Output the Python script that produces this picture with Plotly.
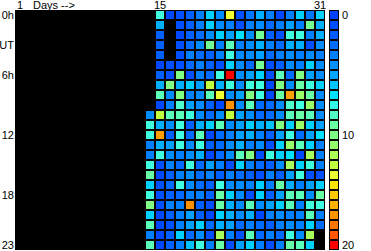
import plotly.graph_objects as go

N = None
days = list(range(1, 32))
hours = list(range(0, 24))

# values for days 14..31 per hour (days 1..13 have no data)
rows_14_31 = [
    [N, 8, 0.5, 1, 2, 3.5, 6.5, 4, 14, 1, 3, 5.5, 3.5, 0.5, 3.5, 6.5, 3, 6.5],
    [N, 5.5, N, 1, 2, 3.5, 6.5, 4, 3.5, 1, 3.5, 4, 2.5, 3.5, 5, 3.5, 10, 5.5],
    [N, 2, N, 0.5, 2, 2.5, 4, 6.5, 5, 7, 4, 10, 2, 1, 8, 8, 3.5, 5.5],
    [N, 2, N, 1, 2.5, 4, 10, 3.5, 9, 3.5, 4, 5.5, 3.5, 2.5, 5.5, 5.5, 1, 4],
    [N, 2, N, 1, 3.5, 2.5, 2, 3.5, 8, 4, 4, 5, 2.5, 3.5, 4, 3.5, 4, 3.5],
    [N, 0.5, 1, 1, 2.5, 3.5, 2, 1, 6.5, 4, 2.5, 10, 1, 2, 4, 3.5, 6.5, 4],
    [N, 2, 1, 10.5, 1, 3.5, 2.5, 8, 20, 4, 5, 6.5, 1, 9, 2.5, 10.5, 5, 4],
    [N, 5.5, 10.5, 5.5, 6.5, 5, 13, 5.5, 8, 4, 8, 8, 0.5, 10.5, 4, 9.5, 8, 6.5],
    [N, 9, 4, 10.5, 3.5, 4, 9, 14, 4, 5, 10.5, 8, 0.5, 9.5, 17, 11.5, 9.5, 4],
    [N, 0.5, 3.5, 8.5, 5, 4, 2, 0.5, 17.5, 4, 9, 2.5, 2.5, 4, 8.5, 8, 11.5, 4],
    [4, 13, 9, 9, 8, 4, 2.5, 4, 13, 5, 4, 2.5, 2.5, 4, 9, 9.5, 9, 4],
    [8, 5.5, 4, 8, 2, 5.5, 6.5, 9, 4, 5, 6.5, 5.5, 6, 10.5, 6.5, 11.5, 6.5, 5],
    [8, 17, 2, 8, 2.5, 9, 0.5, 2.5, 3.5, 5, 5.5, 3.5, 2, 5, 8, 2.5, 5, 7],
    [3.5, 5.5, 5, 8, 4, 8, 2, 2.5, 4, 5.5, 3.5, 4, 1, 6.5, 11.5, 9, 6.5, 3.5],
    [3.5, 8, 4, 3.5, 4, 5.5, 0.5, 2.5, 4, 9, 10.5, 1, 8, 6.5, 7, 0.5, 12, 3.5],
    [8, 1, 3.5, 2.5, 8, 2.5, 5, 3.5, 1, 6.5, 3.5, 2.5, 2, 4, 12, 6.5, 8, 3.5],
    [9.5, 0.5, 2, 3.5, 4, 2.5, 3.5, 2, 3.5, 2.5, 2, 1, 3.5, 2, 5, 8, 1, 1],
    [6.5, 1, 2.5, 8, 4, 2.5, 2, 8, 4, 4, 3.5, 6.5, 3.5, 9.5, 5.5, 3.5, 5, 6.5],
    [8, 1, 2, 2.5, 3.5, 3.5, 2, 9.5, 6.5, 4, 1, 6.5, 2, 5, 9, 9, 4, 9.5],
    [10.5, 1, 3.5, 3.5, 17.5, 2, 1, 9.5, 5.5, 4, 9, 4, 5, 6.5, 9, 3.5, 8, 8],
    [6.5, 0.5, 2, 3.5, 5, 2, 0.5, 6.5, 5.5, 4, 5.5, 0.5, 3.5, 4, 3.5, 3.5, 9, 3.5],
    [9, 0.5, 1, 3.5, 5, 6.5, 2.5, 5.5, 5, 2.5, 3.5, 2.5, 2, 3.5, 4, 3.5, 6.5, 2.5],
    [3.5, 0.5, 2, 6.5, 2.5, 4, 1, 12, 3.5, 1, 9, 2.5, 3.5, 2.5, 8, 4, 12, N],
    [9, 0.5, 2, 3.5, 6, 8, 3.5, 9.5, 1, 5, 6.5, 3.5, 1, 3.5, 9.5, 9, 6.5, N],
]
empty_days = [N] * 13
z = [empty_days + r for r in rows_14_31]

bar_levels = [0, 0.9, 1.7, 2.6, 3.5, 4.3, 5.2, 6.1, 7.0, 7.8, 8.7, 9.6,
              10.4, 11.3, 12.2, 13.0, 13.9, 14.8, 15.7, 16.5, 17.4, 18.3, 19.1, 20]
bar_ticks = [0, 12, 23]
bar_ticktext = ["0", "10", "20"]

y_tickvals = [0, 3, 6, 12, 18, 23]
y_ticktext = ["0h", "UT", "6h", "12", "18", "23"]
x_labels = [(1, "1"), (15, "15"), (31, "31")]

colorscale = [
    [0.0, "#0040ff"], [0.1, "#0060ff"], [0.175, "#0080ff"], [0.25, "#00a0ff"],
    [0.35, "#00e0ff"], [0.4, "#40ffe0"], [0.525, "#80ff80"], [0.65, "#c0ff40"],
    [0.7, "#f0ff30"], [0.75, "#ffe000"], [0.85, "#ffa000"], [0.95, "#ff6000"],
    [1.0, "#ff0000"],
]

W, H = 371, 251
L, R, T, B = 15, 0, 10, 1
pw = W - L - R

fig = go.Figure()
fig.add_trace(go.Heatmap(
    x=days, y=hours, z=z, zmin=0, zmax=20, colorscale=colorscale,
    showscale=False, xgap=2, ygap=2, hoverongaps=False,
    xaxis="x", yaxis="y",
))
fig.add_trace(go.Heatmap(
    x=[0], y=list(range(len(bar_levels))), z=[[v] for v in bar_levels],
    zmin=0, zmax=20, colorscale=colorscale, showscale=False,
    xgap=2, ygap=2, xaxis="x2", yaxis="y2",
))

font = dict(family="Liberation Sans, Arial, sans-serif", size=11, color="black")

annotations = []
for d, t in x_labels:
    annotations.append(dict(x=d, y=1, xref="x", yref="paper", text=t,
                            showarrow=False, xanchor="center", yanchor="bottom",
                            yshift=-3, font=font))
annotations.append(dict(x=2.1, y=1, xref="x", yref="paper", text="Days -->",
                        showarrow=False, xanchor="left", yanchor="bottom",
                        yshift=-3, font=font))
for v, t in zip(bar_ticks, bar_ticktext):
    annotations.append(dict(x=(341 - L) / pw, y=v, xref="paper", yref="y2", text=t,
                            showarrow=False, xanchor="left", yanchor="middle",
                            xshift=-1, font=font))

fig.update_layout(
    width=W, height=H,
    margin=dict(l=L, r=R, t=T, b=B, pad=0),
    paper_bgcolor="white", plot_bgcolor="black",
    showlegend=False,
    font=font,
    xaxis=dict(domain=[0, 310 / pw], range=[0.5, 31.5], showticklabels=False,
               showgrid=False, zeroline=False, ticks="", fixedrange=True),
    yaxis=dict(range=[23.5, -0.5], tickvals=y_tickvals, ticktext=y_ticktext,
               showgrid=False, zeroline=False, ticks="", tickfont=font),
    xaxis2=dict(domain=[(329 - L) / pw, (339 - L) / pw], range=[-0.5, 0.5],
                showticklabels=False, showgrid=False, zeroline=False, ticks="",
                anchor="y2"),
    yaxis2=dict(range=[23.5, -0.5], anchor="x2", showticklabels=False,
                showgrid=False, zeroline=False, ticks=""),
    annotations=annotations,
)

fig.write_html("out.html")
